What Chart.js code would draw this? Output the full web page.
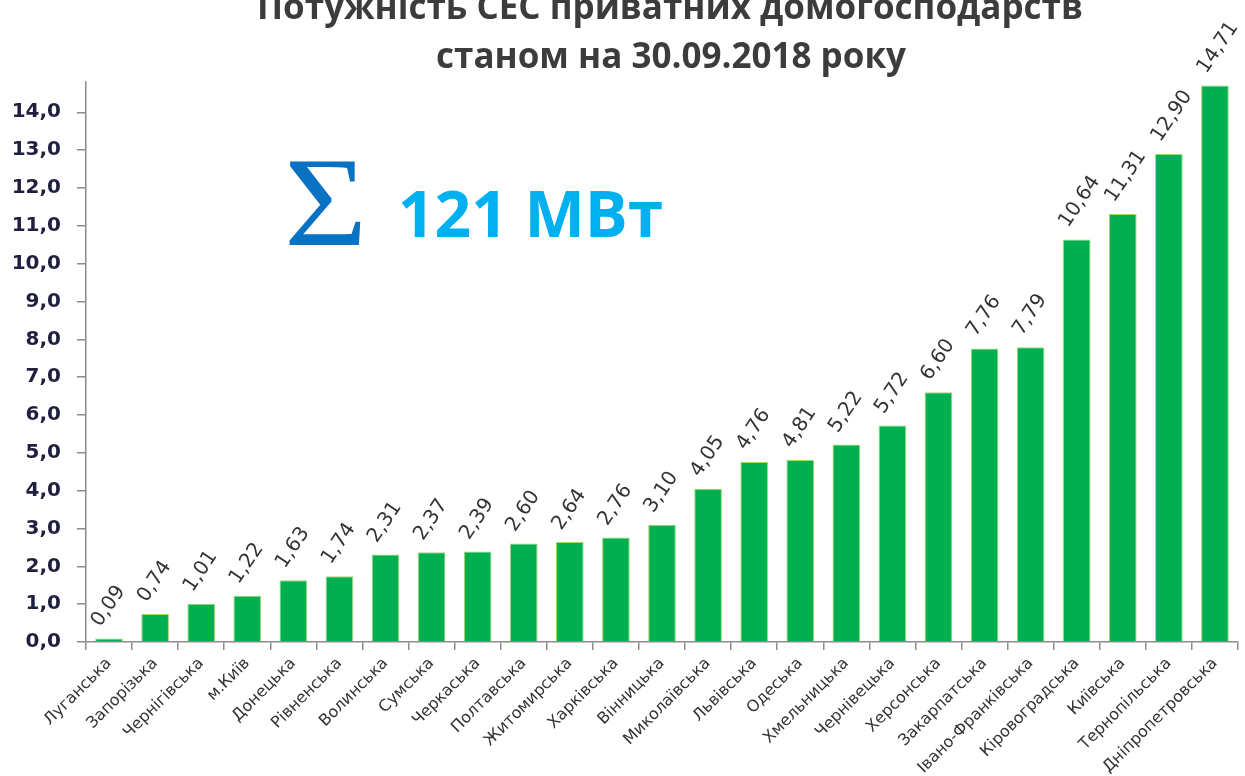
<!DOCTYPE html>
<html>
<head>
<meta charset="utf-8">
<script src="https://cdn.jsdelivr.net/npm/chart.js@4.4.1/dist/chart.umd.min.js"></script>
<style>
  html, body { margin: 0; padding: 0; background: #fff; }
  #wrap { position: relative; width: 1245px; height: 776px; }
</style>
</head>
<body>
<div id="wrap"><canvas id="chart" width="1245" height="776"></canvas></div>
<script>
// regions (oblasts) and installed capacity, MW
const regions = [
    'Луганська', 'Запорізька', 'Чернігівська', 'м.Київ', 'Донецька',
    'Рівненська', 'Волинська', 'Сумська', 'Черкаська', 'Полтавська',
    'Житомирська', 'Харківська', 'Вінницька', 'Миколаївська', 'Львівська',
    'Одеська', 'Хмельницька', 'Чернівецька', 'Херсонська', 'Закарпатська',
    'Івано-Франківська', 'Кіровоградська', 'Київська', 'Тернопільська', 'Дніпропетровська'
];
const capacity = [
    0.09, 0.74, 1.01, 1.22, 1.63,
    1.74, 2.31, 2.37, 2.39, 2.60,
    2.64, 2.76, 3.10, 4.05, 4.76,
    4.81, 5.22, 5.72, 6.60, 7.76,
    7.79, 10.64, 11.31, 12.90, 14.71
];
const titleLines = ['Потужність СЕС приватних домогосподарств', 'станом на 30.09.2018 року'];
const totalText = '121 МВт';

const fmt = v => v.toFixed(2).replace('.', ',');

// value labels above bars, rotated like the excel original
const barLabels = {
    id: 'barLabels',
    afterDatasetsDraw(chart){
        const ctx = chart.ctx;
        const meta = chart.getDatasetMeta(0);
        ctx.save();
        ctx.font = '20px "DejaVu Sans"';
        ctx.fillStyle = '#333333';
        ctx.textAlign = 'left';
        ctx.textBaseline = 'middle';
        meta.data.forEach((bar, i) => {
            ctx.save();
            ctx.translate(bar.x - 13, bar.y - 14);
            ctx.rotate(-56 * Math.PI / 180);
            ctx.fillText(fmt(capacity[i]), 0, 0);
            ctx.restore();
        });
        ctx.restore();
    }
};

// title + sum annotation
const decor = {
    id: 'decor',
    afterDraw(chart){
        const ctx = chart.ctx;
        ctx.save();
        ctx.fillStyle = '#3c3c3c';
        ctx.textAlign = 'center';
        ctx.textBaseline = 'alphabetic';
        ctx.font = 'bold 35px "Open Sans"';
        ctx.fillText(titleLines[0], 670, 19);
        ctx.fillText(titleLines[1], 671, 68);

        ctx.textAlign = 'left';
        ctx.fillStyle = '#0a72c2';
        ctx.font = '128px "Liberation Serif"';
        ctx.save();
        ctx.translate(284, 245);
        ctx.scale(1.12, 1);
        ctx.fillText('Σ', 0, 0);
        ctx.restore();

        ctx.fillStyle = '#00b0f0';
        ctx.font = 'bold 64px "Open Sans"';
        ctx.fillText(totalText, 398, 237);
        ctx.restore();
    }
};

const ctx = document.getElementById('chart').getContext('2d');
const chart = new Chart(ctx, {
    type: 'bar',
    data: {
        labels: regions,
        datasets: [{
            data: capacity,
            backgroundColor: '#00b050',
            borderColor: '#a4d86a',
            borderWidth: 1,
            barPercentage: 0.6,
            categoryPercentage: 1
        }]
    },
    options: {
        responsive: false,
        animation: false,
        layout: { padding: { top: 82, right: 7, left: 0, bottom: 0 } },
        plugins: {
            legend: { display: false },
            tooltip: { enabled: false },
            title: { display: false }
        },
        scales: {
            x: {
                afterFit: s => { s.height = 134; },
                grid: {
                    offset: true,
                    drawOnChartArea: false,
                    tickLength: 8,
                    color: '#8c8c8c',
                    lineWidth: 1.5
                },
                border: { color: '#8c8c8c', width: 1.5 },
                ticks: {
                    autoSkip: false,
                    minRotation: 45,
                    maxRotation: 45,
                    padding: 4,
                    color: '#333333',
                    font: { family: 'DejaVu Sans', size: 16 }
                }
            },
            y: {
                min: 0,
                max: 14.8,
                afterFit: s => { s.width = 86; },
                afterBuildTicks: s => { s.ticks = s.ticks.filter(t => Number.isInteger(t.value)); },
                grid: {
                    drawOnChartArea: false,
                    tickLength: 9,
                    color: '#8c8c8c',
                    lineWidth: 1.5
                },
                border: { color: '#8c8c8c', width: 1.5 },
                ticks: {
                    stepSize: 1,
                    padding: 16,
                    color: '#1f1f3f',
                    font: { family: 'DejaVu Sans', size: 20, weight: 'bold' },
                    callback: v => v.toFixed(1).replace('.', ',')
                }
            }
        }
    },
    plugins: [barLabels, decor]
});
</script>
</body>
</html>
